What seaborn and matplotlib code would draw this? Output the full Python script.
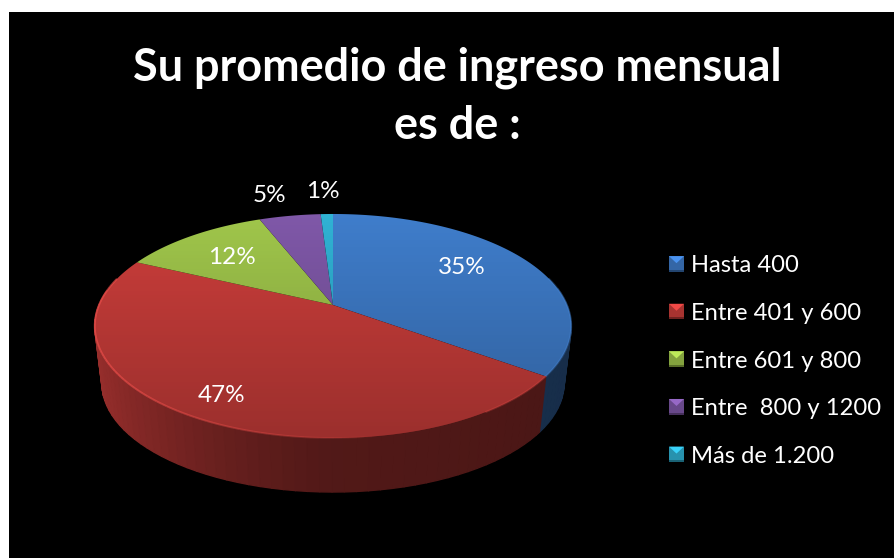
import matplotlib
matplotlib.use('Agg')
import matplotlib.pyplot as plt
import matplotlib.transforms as mtransforms
from matplotlib.legend_handler import HandlerBase
from matplotlib.patches import Polygon, Rectangle
from matplotlib.path import Path
import numpy as np
import seaborn as sns

title = 'Su promedio de ingreso mensual\nes de :'
categories = ['Hasta 400', 'Entre 401 y 600', 'Entre 601 y 800', 'Entre  800 y 1200', 'Más de 1.200']
shares = [35, 47, 12, 5, 1]
slice_hex = ['#3f7dcb', '#cc3e3b', '#a0c64b', '#7f58a8', '#30b2d4']

# where Excel left the percent labels, in pixels
label_xy = [(462, 268), (222, 395), (232, 258), (269, 196), (323, 192)]


class PieView(mtransforms.Transform):
    """Perspective of the flat unit pie, result is in picture pixels."""
    input_dims = 2
    output_dims = 2
    has_inverse = False

    def transform_non_affine(self, pts):
        pts = np.asarray(pts, dtype=float)
        d = 1 + 0.1875 * pts[:, 1]
        return np.column_stack((333 + 234 * pts[:, 0] / d, (305 - 50.9 * pts[:, 1]) / d))

    def transform_path_non_affine(self, path):
        # flatten the arcs first, the view is not affine
        poly = path.to_polygons(mtransforms.Affine2D().scale(3000), closed_only=False)[0] / 3000
        return Path(self.transform_non_affine(poly), closed=False)


def rim_top(theta):
    rad = np.radians(theta)
    return PieView().transform_non_affine(np.column_stack((np.cos(rad), np.sin(rad))))


def rim_bottom(theta):
    pts = rim_top(theta)
    return np.column_stack((333 + 0.97 * (pts[:, 0] - 333), 363 + 0.97 * (pts[:, 1] - 305)))


class BevelSwatch(HandlerBase):
    def create_artists(self, legend, orig, xd, yd, width, height, fontsize, trans):
        col = np.array(orig.get_facecolor()[:3])
        x0, y0, w, h = -xd, -yd, width, height
        box = Rectangle((x0, y0), w, h, facecolor=col * 0.82, edgecolor='none', transform=trans)
        tip = Polygon([(x0, y0 + h), (x0 + w, y0 + h), (x0 + w / 2, y0 + h * 0.55)],
                      facecolor=np.minimum(col * 1.18, 1), edgecolor='none', transform=trans)
        low = Rectangle((x0, y0), w, h * 0.12, facecolor=col * 0.55, edgecolor='none', transform=trans)
        return [box, tip, low]


sns.set_theme(style='white')
plt.rcParams['font.family'] = ['Lato', 'DejaVu Sans']
colors = sns.color_palette(slice_hex)

fig = plt.figure(figsize=(8.94, 5.58), dpi=100, facecolor='white')
ax = fig.add_axes([9 / 894, 0, 885 / 894, 546 / 558])

wedges, _ = ax.pie(shares, colors=colors, startangle=90, counterclock=False,
                   wedgeprops=dict(linewidth=0))
view = PieView() + ax.transData
for w in wedges:
    w.set_transform(view)
    w.set_zorder(3)

# side wall, one strip per step so the shade can run along it
for w, col in zip(wedges, colors):
    steps = np.arange(w.theta1, w.theta2 + 2.5, 2.5)
    steps[-1] = w.theta2
    for a, b in zip(steps[:-1], steps[1:]):
        mid = np.radians((a + b) / 2)
        if np.sin(mid) > 0.15:
            continue
        u = np.cos(mid)
        shade = 0.40 + 0.36 * np.clip(-u, 0, 1) ** 1.3 - 0.04 * np.clip(u, 0, 1)
        face = np.array(col) * shade
        top = rim_top(np.array([a, b]))
        low = rim_bottom(np.array([b, a]))
        ax.fill(*np.vstack((top, low)).T, facecolor=face, edgecolor=face, lw=1.0, zorder=2)

# top face gets darker towards the viewer
circle = np.linspace(0, 360, 361)
outline = Polygon(np.column_stack((np.cos(np.radians(circle)), np.sin(np.radians(circle)))),
                  transform=view)
fade = np.zeros((256, 2, 4))
fade[:, :, 3] = np.linspace(0, 0.24, 256)[:, None]
im = ax.imshow(fade, extent=(90, 575, 438, 214), aspect='auto', zorder=4)
im.set_clip_path(outline)

# thin light rim on the near edge
for w, col in zip(wedges, colors):
    steps = np.arange(w.theta1, w.theta2 + 1.5, 1.5)
    for a, b in zip(steps[:-1], steps[1:]):
        mid = np.radians((a + b) / 2)
        if np.sin(mid) > 0.25:
            continue
        u = np.cos(mid)
        strength = 0.6 * np.clip(-u + 0.15, 0, 1) ** 0.7
        if u > 0.55:
            strength = 0.25
        if strength <= 0:
            continue
        light = np.minimum(np.array(col) * 1.15 + 0.04, 1)
        ax.plot(*rim_top(np.array([a, b])).T, color=light, lw=1.4, alpha=strength,
                solid_capstyle='butt', zorder=5)

ax.set_xlim(9, 894)
ax.set_ylim(558, 12)
ax.set_aspect('auto')
ax.set_frame_on(True)
ax.set_facecolor('black')
for side in ax.spines.values():
    side.set_visible(False)
ax.set_xticks([])
ax.set_yticks([])

ax.text(457.5, 97, title, color='white', fontsize=32.4, fontweight='bold', ha='center', va='center',
        linespacing=1.47, zorder=6)

for val, (x, y) in zip(shares, label_xy):
    ax.text(x, y, f'{val}%', color='white', fontsize=17.5, ha='center', va='center', zorder=6)

leg = ax.legend(wedges, categories, handler_map={type(wedges[0]): BevelSwatch()},
                loc='center left', bbox_to_anchor=(669, 361), bbox_transform=ax.transData,
                frameon=False, fontsize=17.1, labelcolor='white', labelspacing=1.12,
                handlelength=0.63, handleheight=0.63, handletextpad=0.3, borderpad=0, borderaxespad=0)

fig.savefig('out.png', dpi=100, facecolor='white')
